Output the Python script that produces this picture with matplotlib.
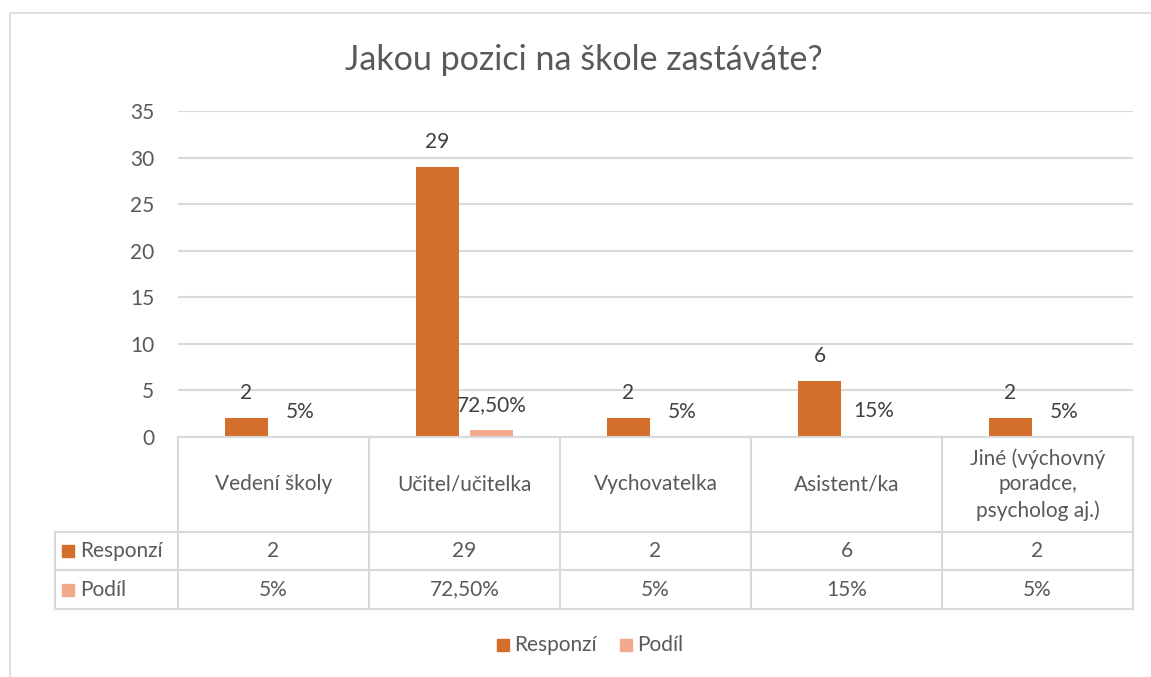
import matplotlib
matplotlib.use("Agg")
import matplotlib.pyplot as plt
from matplotlib.patches import Rectangle

plt.rcParams['font.family'] = ['Lato', 'DejaVu Sans']

title = "Jakou pozici na škole zastáváte?"
categories = ["Vedení školy", "Učitel/učitelka", "Vychovatelka", "Asistent/ka",
              "Jiné (výchovný\nporadce,\npsycholog aj.)"]
series_names = ["Responzí", "Podíl"]
responzi = [2, 29, 2, 6, 2]
podil = [0.05, 0.725, 0.05, 0.15, 0.05]
responzi_labels = ["2", "29", "2", "6", "2"]
podil_labels = ["5%", "72,50%", "5%", "15%", "5%"]
yticks = [0, 5, 10, 15, 20, 25, 30, 35]
colors = ["#D36F2B", "#F3A98B"]

FS = 15

W, H = 1151, 677
fig = plt.figure(figsize=(W / 100, H / 100), dpi=100)

def fx(px):
    return px / W

def fy(py):
    return 1 - py / H

# layout (pixels)
ax_l, ax_r, ax_t, ax_b = 178, 1133, 111, 437
ax = fig.add_axes([fx(ax_l), fy(ax_b), fx(ax_r) - fx(ax_l), fy(ax_t) - fy(ax_b)])
n = len(categories)
ax.set_xlim(0, n)
ax.set_ylim(0, 35)
ax.set_yticks(yticks)
ax.set_yticklabels([str(t) for t in yticks], fontsize=FS, color="#595959")
ax.set_xticks([])
ax.tick_params(axis='y', length=0, pad=17)
for s in ax.spines.values():
    s.set_visible(False)
ax.grid(axis='y', color="#D9D9D9", linewidth=1.5)
ax.set_axisbelow(True)

bw = 43 / 191
gap = 11 / 191
xs = [i + 0.5 for i in range(n)]
x1 = [x - gap / 2 - bw / 2 for x in xs]
x2 = [x + gap / 2 + bw / 2 for x in xs]
b1 = ax.bar(x1, responzi, width=bw, color=colors[0], zorder=3)
b2 = ax.bar(x2, podil, width=bw, color=colors[1], zorder=3)
for rect, lab in zip(b1, responzi_labels):
    ax.annotate(lab, (rect.get_x() + rect.get_width() / 2, rect.get_height()),
                xytext=(0, 18), textcoords="offset points", ha="center", va="center",
                fontsize=FS, color="#404040", annotation_clip=False)
for rect, lab in zip(b2, podil_labels):
    ax.annotate(lab, (rect.get_x() + rect.get_width() / 2, rect.get_height()),
                xytext=(0, 18), textcoords="offset points", ha="center", va="center",
                fontsize=FS, color="#404040", annotation_clip=False)

# overlay axes in pixel coordinates for frame, data table and legend
ov = fig.add_axes([0, 0, 1, 1])
ov.set_xlim(0, W)
ov.set_ylim(H, 0)
ov.axis("off")
ov.patch.set_alpha(0)

lc = "#D9D9D9"
lw = 1.5
# chart frame
ov.plot([10.5, 10.5, W], [H, 12.5, 12.5], color=lc, lw=1.2)

# title
ov.text(584, 60, title, ha="center", va="center", fontsize=24.5, color="#595959")

# table
col_x = [ax_l + (ax_r - ax_l) * i / n for i in range(n + 1)]
tbl_left = 55
r0, r1, r2, r3 = 437, 532, 570, 609
ov.plot([ax_l, ax_r], [r0, r0], color=lc, lw=lw)
for yy in (r1, r2, r3):
    ov.plot([tbl_left, ax_r], [yy, yy], color=lc, lw=lw)
for xx in col_x:
    ov.plot([xx, xx], [r0, r3], color=lc, lw=lw)
ov.plot([tbl_left, tbl_left], [r1, r3], color=lc, lw=lw)

for i, cat in enumerate(categories):
    cx = (col_x[i] + col_x[i + 1]) / 2
    ov.text(cx, (r0 + r1) / 2, cat, ha="center", va="center", fontsize=FS,
            color="#595959", linespacing=1.35)
    ov.text(cx, (r1 + r2) / 2, responzi_labels[i], ha="center", va="center",
            fontsize=FS, color="#595959")
    ov.text(cx, (r2 + r3) / 2, podil_labels[i], ha="center", va="center",
            fontsize=FS, color="#595959")

for j, (name, yy) in enumerate(zip(series_names, [(r1 + r2) / 2, (r2 + r3) / 2])):
    ov.add_patch(Rectangle((62, yy - 6), 12, 12, color=colors[j]))
    ov.text(80, yy, name, ha="left", va="center", fontsize=FS, color="#595959")

# bottom legend
leg_y = 645
ov.add_patch(Rectangle((497, leg_y - 6), 12, 12, color=colors[0]))
ov.text(514, leg_y, series_names[0], ha="left", va="center", fontsize=FS, color="#595959")
ov.add_patch(Rectangle((620, leg_y - 6), 12, 12, color=colors[1]))
ov.text(637, leg_y, series_names[1], ha="left", va="center", fontsize=FS, color="#595959")

fig.savefig("out.png", dpi=100)
